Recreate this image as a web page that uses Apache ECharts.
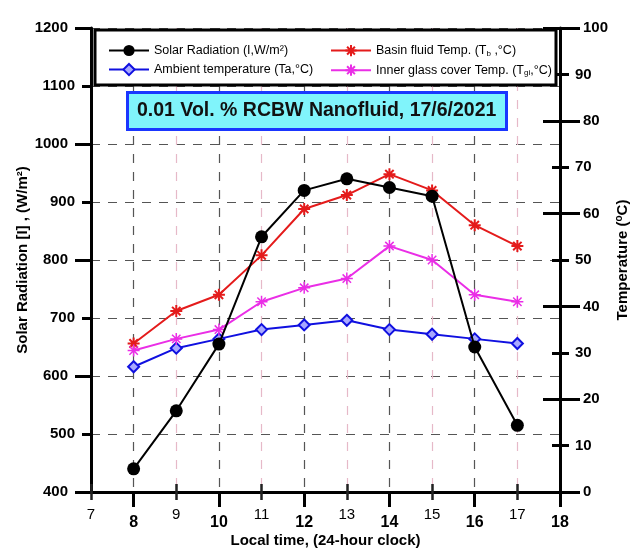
<!DOCTYPE html>
<html>
<head>
<meta charset="utf-8">
<script src="https://cdn.jsdelivr.net/npm/echarts@6/dist/echarts.min.js"></script>
<style>
  html, body { margin: 0; padding: 0; background: #fff; }
  #chart { width: 639px; height: 549px; }
</style>
</head>
<body>
<div id="chart"></div>
<script>
// local time (h)
const hours = [8, 9, 10, 11, 12, 13, 14, 15, 16, 17];
// W/m2, left axis
const solarRadiation = [440, 540, 655, 840, 920, 940, 925, 910, 650, 515];
// deg C, right axis
const ambientTemp = [27, 31, 33, 35, 36, 37, 35, 34, 33, 32];
const basinTemp = [32, 39, 42.5, 51, 61, 64, 68.5, 65, 57.5, 53];
const glassTemp = [30.5, 33, 35, 41, 44, 46, 53, 50, 42.5, 41];

const xMajorTicks = [8, 10, 12, 14, 16, 18];
const xMinorTicks = [7, 9, 11, 13, 15, 17];
const leftMajorTicks = [400, 600, 800, 1000, 1200];
const rightMajorTicks = [0, 20, 40, 60, 80, 100];

const FONT = "'Liberation Sans', Arial, sans-serif";
const asterisk = "path://M0,5L10,5M5,0L5,10M1.5,1.5L8.5,8.5M8.5,1.5L1.5,8.5";

function pairs(vals) {
  return hours.map((h, i) => [h, vals[i]]);
}

// overlay axis used only to draw extra ticks
function tickAxis(base, extra) {
  return Object.assign({
    type: "value",
    axisLine: { show: false },
    axisLabel: { show: false },
    splitLine: { show: false },
  }, base, extra);
}

const xBase = { min: 7, max: 18, interval: 1, position: "bottom" };
const leftBase = { min: 400, max: 1200, interval: 100, position: "left" };
const rightBase = { min: 0, max: 100, interval: 10, position: "right" };

const chart = echarts.init(document.getElementById("chart"));

const option = {
  animation: false,
  textStyle: { fontFamily: FONT },
  grid: { left: 91, right: 79, top: 28, bottom: 57, outerBoundsMode: "none" },
  title: {
    text: "0.01 Vol. % RCBW Nanofluid, 17/6/2021",
    left: 127,
    top: 92,
    padding: [9, 10, 9, 10],
    backgroundColor: "#80f4fb",
    borderColor: "#1a36ff",
    borderWidth: 3,
    textStyle: { fontFamily: FONT, fontSize: 19.5, fontWeight: "bold", color: "#111" },
    z: 8,
  },
  graphic: [
    {
      type: "rect",
      z: 5,
      shape: { x: 95, y: 30, width: 461, height: 55 },
      style: { fill: "#fff", stroke: "#000", lineWidth: 3 },
    },
  ],
  legend: [
    {
      data: ["Solar Radiation", "Ambient temperature"],
      orient: "vertical",
      left: 103,
      top: 39,
      itemWidth: 40,
      itemHeight: 14,
      itemGap: 6,
      z: 7,
      formatter: (name) => name === "Solar Radiation"
        ? "Solar Radiation (I,W/m²)"
        : "Ambient temperature (Ta,°C)",
      textStyle: { fontFamily: FONT, fontSize: 12.5, color: "#000" },
    },
    {
      data: ["Basin fluid Temp.", "Inner glass cover Temp."],
      orient: "vertical",
      left: 325,
      top: 39,
      itemWidth: 40,
      itemHeight: 14,
      itemGap: 6,
      z: 7,
      formatter: (name) => name === "Basin fluid Temp."
        ? "{t|Basin fluid Temp. (T}{s|b}{t| ,°C)}"
        : "{t|Inner glass cover Temp. (T}{s|gi}{t|,°C)}",
      textStyle: {
        fontFamily: FONT, fontSize: 12.5, color: "#000",
        rich: {
          t: { fontFamily: FONT, fontSize: 12.5, color: "#000" },
          s: { fontFamily: FONT, fontSize: 8, color: "#000", padding: [6, 0, 0, 0] },
        },
      },
    },
  ],
  xAxis: [
    Object.assign({}, xBase, {
      type: "value",
      name: "Local time, (24-hour clock)",
      nameLocation: "middle",
      nameGap: 41,
      nameMoveOverlap: false,
      nameTextStyle: { fontFamily: FONT, fontSize: 15, fontWeight: "bold", color: "#000" },
      axisLine: { lineStyle: { color: "#000", width: 3 } },
      axisTick: { show: false },
      axisLabel: {
        margin: 15,
        formatter: (v) => (v % 2 === 0 ? "{b|" + v + "}" : "{n|" + v + "}"),
        rich: {
          b: { fontFamily: FONT, fontSize: 16, fontWeight: "bold", color: "#000", padding: [8, 0, 0, 0] },
          n: { fontFamily: FONT, fontSize: 15, color: "#000" },
        },
      },
      splitLine: {
        show: true,
        lineStyle: { color: ["#e6b9c8", "#555"], type: [9, 9], width: 1.2 },
      },
    }),
    tickAxis(xBase, {
      axisTick: { customValues: xMajorTicks, length: 15, lineStyle: { color: "#000", width: 3 } },
    }),
    tickAxis(xBase, {
      axisTick: { customValues: xMinorTicks, inside: true, length: 8, lineStyle: { color: "#222", width: 2.5 } },
    }),
    tickAxis(xBase, {
      axisTick: { customValues: xMinorTicks, length: 8, lineStyle: { color: "#222", width: 2.5 } },
    }),
  ],
  yAxis: [
    Object.assign({}, leftBase, {
      type: "value",
      name: "Solar Radiation [I] , (W/m²)",
      nameLocation: "middle",
      nameRotate: 90,
      nameGap: 61,
      nameMoveOverlap: false,
      nameTextStyle: { fontFamily: FONT, fontSize: 15, fontWeight: "bold", color: "#000" },
      axisLine: { show: true, lineStyle: { color: "#000", width: 3 } },
      axisTick: { show: true, length: 9, lineStyle: { color: "#000", width: 3 } },
      axisLabel: {
        margin: 16,
        formatter: (v) => (v % 200 === 0 ? "{m|" + v + "}" : "{n|" + v + "}"),
        rich: {
          m: { fontFamily: FONT, fontSize: 15, fontWeight: "bold", color: "#000", padding: [0, 7, 0, 0] },
          n: { fontFamily: FONT, fontSize: 15, fontWeight: "bold", color: "#000" },
        },
      },
      splitLine: { show: true, lineStyle: { color: "#555", type: [9, 8], width: 1.2 } },
    }),
    Object.assign({}, rightBase, {
      type: "value",
      name: "{t|Temperature (}{s|o}{t|C)}",
      nameLocation: "middle",
      nameRotate: 90,
      nameGap: 54,
      nameMoveOverlap: false,
      nameTextStyle: {
        fontFamily: FONT, fontSize: 15, fontWeight: "bold", color: "#000",
        rich: {
          t: { fontFamily: FONT, fontSize: 15, fontWeight: "bold", color: "#000" },
          s: { fontFamily: FONT, fontSize: 10, fontWeight: "bold", color: "#000", padding: [0, 0, 7, 0] },
        },
      },
      axisLine: { show: true, lineStyle: { color: "#000", width: 3 } },
      axisTick: { show: true, length: 9, lineStyle: { color: "#000", width: 3 } },
      axisLabel: {
        margin: 15,
        formatter: (v) => (v % 20 === 0 ? "{m|" + v + "}" : "{n|" + v + "}"),
        rich: {
          m: { fontFamily: FONT, fontSize: 15, fontWeight: "bold", color: "#000", padding: [0, 0, 0, 8] },
          n: { fontFamily: FONT, fontSize: 15, fontWeight: "bold", color: "#000" },
        },
      },
      splitLine: { show: false },
    }),
    tickAxis(leftBase, {
      axisTick: { customValues: leftMajorTicks, length: 16, lineStyle: { color: "#000", width: 3 } },
    }),
    tickAxis(rightBase, {
      axisTick: { inside: true, length: 8, lineStyle: { color: "#000", width: 3 } },
    }),
    tickAxis(rightBase, {
      axisTick: { customValues: rightMajorTicks, length: 20, lineStyle: { color: "#000", width: 3 } },
    }),
    tickAxis(rightBase, {
      axisTick: { customValues: rightMajorTicks, inside: true, length: 17, lineStyle: { color: "#000", width: 3 } },
    }),
  ],
  series: [
    {
      name: "Solar Radiation",
      type: "line",
      xAxisIndex: 0,
      yAxisIndex: 0,
      data: pairs(solarRadiation),
      symbol: "circle",
      symbolSize: 13,
      lineStyle: { color: "#000", width: 2 },
      itemStyle: { color: "#000" },
      z: 4,
    },
    {
      name: "Ambient temperature",
      type: "line",
      xAxisIndex: 0,
      yAxisIndex: 1,
      data: pairs(ambientTemp),
      symbol: "diamond",
      symbolSize: 11,
      lineStyle: { color: "#1010e0", width: 2 },
      itemStyle: { color: "#a8a8ff", borderColor: "#1010e0", borderWidth: 2 },
    },
    {
      name: "Basin fluid Temp.",
      type: "line",
      xAxisIndex: 0,
      yAxisIndex: 1,
      data: pairs(basinTemp),
      symbol: asterisk,
      symbolSize: 12,
      lineStyle: { color: "#e41b1b", width: 2 },
      itemStyle: { color: "#e41b1b", borderColor: "#e41b1b", borderWidth: 2 },
    },
    {
      name: "Inner glass cover Temp.",
      type: "line",
      xAxisIndex: 0,
      yAxisIndex: 1,
      data: pairs(glassTemp),
      symbol: asterisk,
      symbolSize: 12,
      lineStyle: { color: "#ea2ee6", width: 2 },
      itemStyle: { color: "#ea2ee6", borderColor: "#ea2ee6", borderWidth: 1.5 },
    },
  ],
};

chart.setOption(option);
</script>
</body>
</html>
